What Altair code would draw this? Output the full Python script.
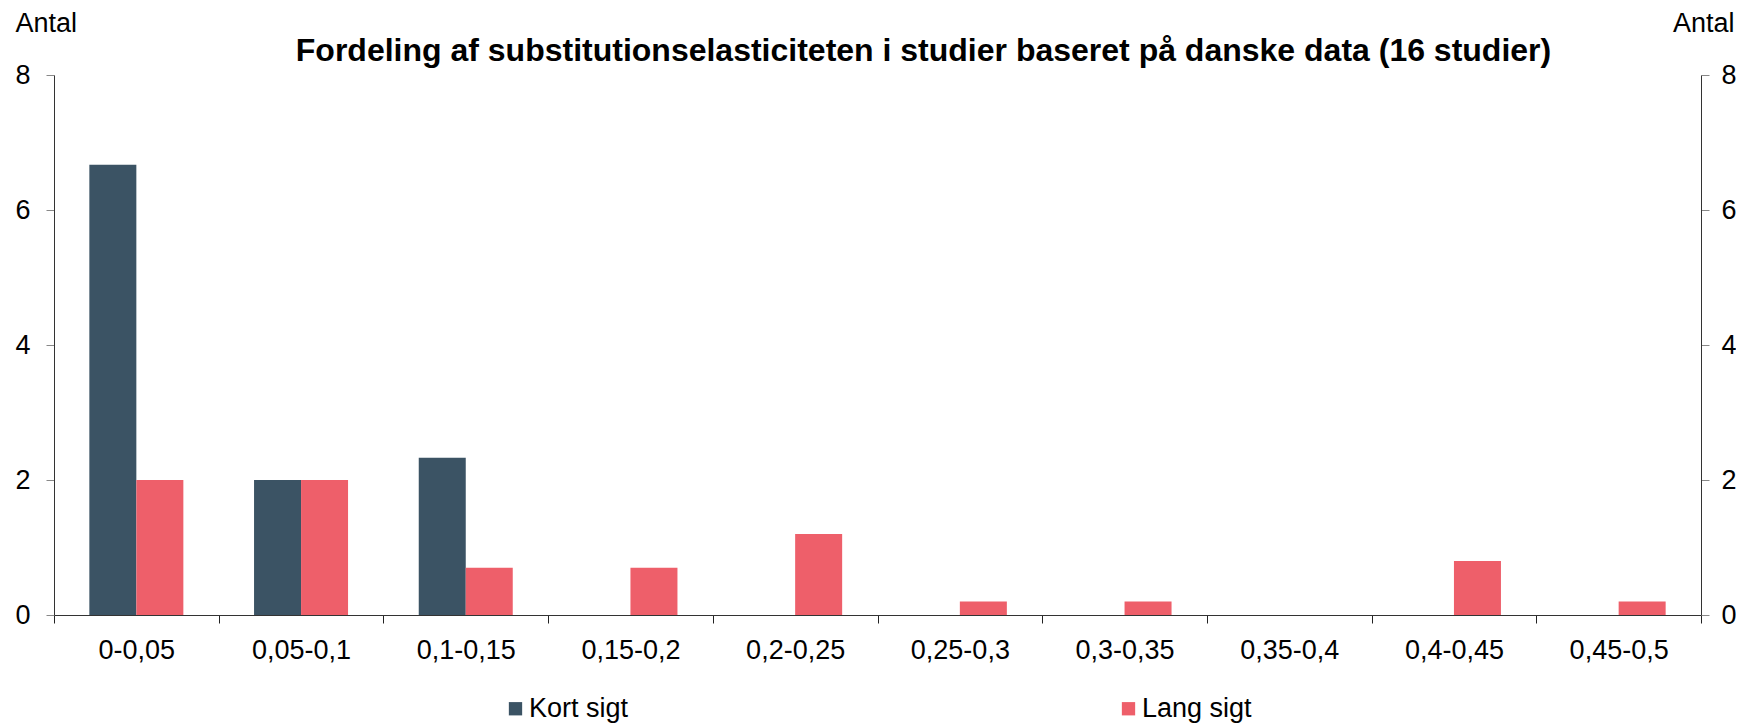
import altair as alt
import pandas as pd

categories = ["0-0,05", "0,05-0,1", "0,1-0,15", "0,15-0,2", "0,2-0,25",
              "0,25-0,3", "0,3-0,35", "0,35-0,4", "0,4-0,45", "0,45-0,5"]
kort_sigt = [6.67, 2.0, 2.33, 0, 0, 0, 0, 0, 0, 0]
lang_sigt = [2.0, 2.0, 0.7, 0.7, 1.2, 0.2, 0.2, 0, 0.8, 0.2]
series_names = ["Kort sigt", "Lang sigt"]
series_colors = ["#3B5364", "#EE5F6A"]
y_ticks = [0, 2, 4, 6, 8]
title_text = "Fordeling af substitutionselasticiteten i studier baseret på danske data (16 studier)"
axis_title = "Antal"

rows = []
for c, k, l in zip(categories, kort_sigt, lang_sigt):
    rows.append({"kat": c, "serie": series_names[0], "v": k})
    rows.append({"kat": c, "serie": series_names[1], "v": l})
df = pd.DataFrame(rows)

FONT = "Liberation Sans"
FS = 27

x_enc = alt.X("kat:N", sort=categories, title=None,
              scale=alt.Scale(paddingInner=0, paddingOuter=0),
              axis=alt.Axis(labelAngle=0, labelFontSize=FS, labelFont=FONT, labelColor="#000",
                            tickBand="extent", tickSize=8, tickColor="#222", domainColor="#333",
                            labelPadding=14, grid=False))
xoff = alt.XOffset("serie:N", sort=series_names, scale=alt.Scale(paddingInner=0, paddingOuter=0.752))
col = alt.Color("serie:N", sort=series_names,
                scale=alt.Scale(domain=series_names, range=series_colors),
                legend=alt.Legend(title=None, orient="none", legendX=448, legendY=620,
                                  direction="horizontal", symbolType="square", symbolSize=177,
                                  symbolStrokeWidth=0, labelFontSize=FS, labelFont=FONT,
                                  labelColor="#000", labelOffset=0, columnPadding=486, padding=0))

def yaxis(orient, tx, align, lp):
    return alt.Axis(orient=orient, values=y_ticks, title=axis_title, titleAngle=0,
                    titleX=tx, titleY=-44, titleAlign=align, titleBaseline="alphabetic",
                    titleFontSize=FS, titleFont=FONT, titleFontWeight="normal", titleColor="#000",
                    labelFontSize=FS, labelFont=FONT, labelColor="#000", labelPadding=lp,
                    tickSize=8, tickColor="#888", domainColor="#333", grid=False)

bars = alt.Chart(df).mark_bar().encode(
    x=x_enc, xOffset=xoff, color=col,
    y=alt.Y("v:Q", scale=alt.Scale(domain=[0, 8], nice=False), axis=yaxis("left", -39, "left", 16)),
)
bars_r = alt.Chart(df).mark_bar(opacity=0).encode(
    x=x_enc, xOffset=xoff, color=col,
    y=alt.Y("v:Q", scale=alt.Scale(domain=[0, 8], nice=False), axis=yaxis("right", 33, "right", 12)),
)
title = alt.Chart(pd.DataFrame({"t": [title_text]})).mark_text(
    font=FONT, fontSize=32, fontWeight="bold", color="#000", align="center", baseline="alphabetic"
).encode(text="t:N", x=alt.value(869.5), y=alt.value(-14))

chart = alt.layer(bars, bars_r, title).resolve_scale(y="independent").properties(
    width=1647, height=540,
    autosize=alt.AutoSizeParams(type="none"),
    padding={"left": 46, "top": 67, "right": 35, "bottom": 108},
).configure_view(stroke=None)

chart.save("out.html", embed_options={"renderer": "svg", "actions": False})
